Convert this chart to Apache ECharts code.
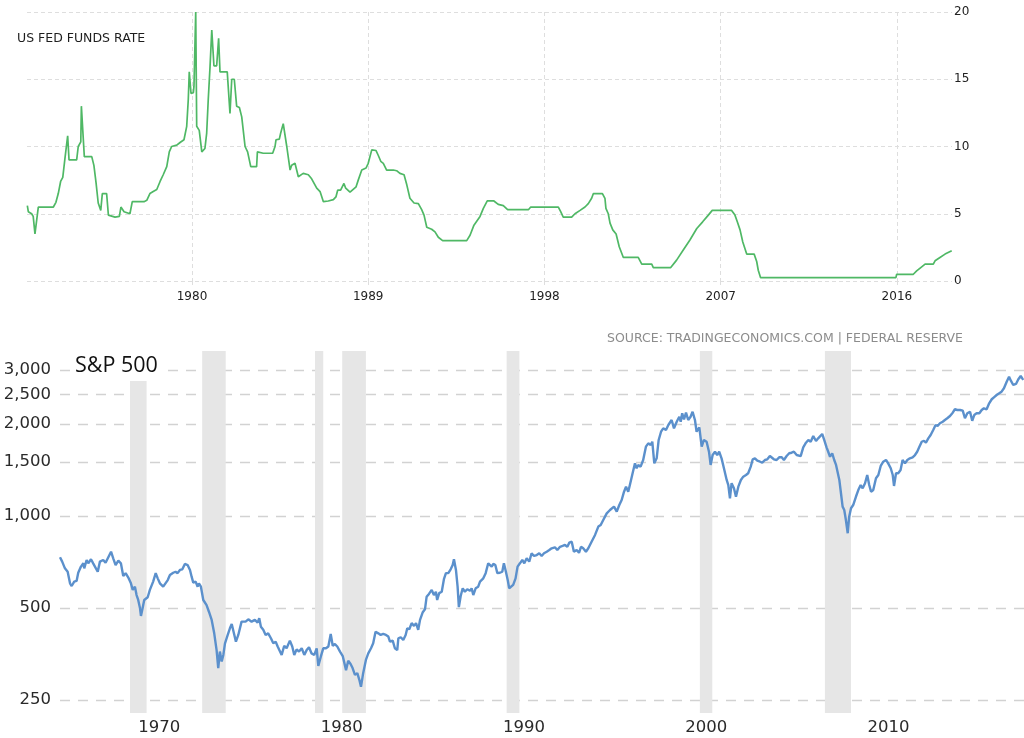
<!DOCTYPE html>
<html>
<head>
<meta charset="utf-8">
<script src="https://cdn.jsdelivr.net/npm/echarts@6/dist/echarts.min.js"></script>
<style>
html,body{margin:0;padding:0;background:#fff;}
#chart{width:1024px;height:738px;}
</style>
</head>
<body>
<div id="chart"></div>
<script>
// ---------- US Fed Funds Rate (top panel) ----------
var fedDates = [1971.59,1971.64,1971.81,1971.89,1971.98,1972.07,1972.15,1972.92,1973.05,1973.17,
1973.29,1973.40,1973.51,1973.65,1973.72,1974.11,1974.19,1974.32,1974.35,1974.45,
1974.50,1974.88,1974.99,1975.10,1975.21,1975.34,1975.42,1975.64,1975.73,1976.07,
1976.29,1976.37,1976.53,1976.83,1976.92,1976.95,1977.55,1977.69,1977.85,1978.02,
1978.20,1978.37,1978.53,1978.71,1978.84,1978.96,1979.22,1979.39,1979.59,1979.73,
1979.81,1979.86,1979.95,1980.07,1980.10,1980.19,1980.24,1980.37,1980.50,1980.55,
1980.66,1980.75,1980.83,1980.92,1981.01,1981.12,1981.26,1981.36,1981.43,1981.80,
1981.94,1982.03,1982.16,1982.28,1982.42,1982.54,1982.71,1982.84,1983.00,1983.30,
1983.34,1983.64,1984.12,1984.24,1984.29,1984.46,1984.53,1984.66,1984.84,1985.01,
1985.09,1985.26,1985.43,1985.68,1985.94,1986.11,1986.37,1986.54,1986.71,1986.96,
1987.22,1987.35,1987.44,1987.59,1987.76,1987.85,1988.07,1988.16,1988.38,1988.49,
1988.67,1988.89,1989.00,1989.18,1989.40,1989.51,1989.64,1989.77,1989.94,1990.28,
1990.45,1990.62,1990.83,1990.97,1991.13,1991.34,1991.56,1991.73,1991.85,1991.99,
1992.24,1992.41,1992.58,1992.80,1994.03,1994.20,1994.40,1994.71,1994.88,1995.08,
1995.42,1995.64,1995.90,1996.12,1997.18,1997.30,1998.71,1998.83,1998.96,1999.39,
1999.56,1999.82,2000.07,2000.24,2000.41,2000.50,2000.96,2001.09,2001.14,2001.26,
2001.35,2001.49,2001.66,2001.82,2002.03,2002.79,2002.97,2003.48,2003.56,2004.45,
2004.75,2005.09,2005.43,2005.78,2006.08,2006.37,2006.57,2007.56,2007.73,2007.85,
2007.99,2008.13,2008.33,2008.71,2008.84,2008.92,2009.04,2015.95,2015.99,2016.84,
2017.01,2017.22,2017.44,2017.86,2017.95,2018.20,2018.46,2018.80];
var fedRates = [5.6,5.15,5.0,4.8,3.5,3.5,5.5,5.5,5.85,6.5,
7.4,7.7,9.1,10.8,9.0,9.0,10.0,10.35,13.0,13.0,
9.25,9.25,8.6,7.3,5.8,5.25,6.5,6.5,4.9,4.75,
4.8,5.5,5.15,5.0,4.9,5.9,5.9,6.0,6.5,6.65,
6.8,7.4,7.9,8.5,9.6,10.0,10.1,10.3,10.5,11.5,
13.5,15.55,13.95,14.0,14.45,20.0,11.5,11.2,9.6,9.5,
9.85,11.0,13.5,15.9,18.65,16.0,16.0,18.05,15.55,15.55,
12.45,15.0,15.0,13.0,12.9,12.2,10.0,9.6,8.5,8.5,
9.6,9.5,9.5,10.0,10.5,10.55,11.0,11.7,10.0,8.25,
8.6,8.75,7.75,8.0,7.9,7.6,6.9,6.65,5.9,5.95,
6.05,6.25,6.75,6.75,7.25,6.9,6.6,6.6,7.0,7.5,
8.25,8.4,8.75,9.75,9.7,9.35,8.9,8.75,8.25,8.25,
8.2,8.0,7.9,7.15,6.15,5.8,5.75,5.3,4.9,4.0,
3.85,3.65,3.25,3.0,3.0,3.4,4.15,4.8,5.4,5.95,
5.95,5.7,5.6,5.3,5.3,5.5,5.5,5.15,4.75,4.75,
5.0,5.25,5.5,5.75,6.15,6.5,6.5,6.15,5.4,5.0,
4.3,3.8,3.5,2.55,1.75,1.75,1.25,1.25,1.0,1.0,
1.55,2.3,3.05,3.9,4.4,4.9,5.25,5.25,4.9,4.4,
3.8,2.9,2.0,2.0,1.45,0.8,0.25,0.25,0.5,0.5,
0.75,1.0,1.25,1.25,1.5,1.75,2.0,2.25];
var fedYearTicks = [1980, 1989, 1998, 2007, 2016];
var fedRateTicks = [0, 5, 10, 15, 20];

// ---------- S&P 500 (bottom panel, log scale) ----------
var spDates = [1964.55,1964.67,1964.82,1964.97,1965.10,1965.19,1965.33,1965.46,1965.55,1965.70,
1965.83,1965.88,1966.01,1966.10,1966.25,1966.37,1966.47,1966.62,1966.74,1966.92,
1967.05,1967.20,1967.35,1967.47,1967.60,1967.75,1967.89,1968.02,1968.15,1968.29,
1968.44,1968.54,1968.66,1968.75,1968.84,1968.94,1968.99,1969.08,1969.17,1969.36,
1969.48,1969.66,1969.80,1969.91,1970.03,1970.13,1970.21,1970.31,1970.46,1970.58,
1970.76,1970.89,1971.00,1971.13,1971.26,1971.40,1971.55,1971.68,1971.77,1971.86,
1971.99,1972.10,1972.17,1972.28,1972.41,1972.59,1972.72,1972.87,1973.01,1973.14,
1973.23,1973.32,1973.42,1973.51,1973.60,1973.75,1973.87,1973.97,1974.09,1974.20,
1974.33,1974.42,1974.51,1974.60,1974.73,1974.88,1975.06,1975.24,1975.39,1975.48,
1975.57,1975.70,1975.83,1975.97,1976.12,1976.25,1976.38,1976.49,1976.56,1976.71,
1976.85,1976.98,1977.16,1977.29,1977.40,1977.53,1977.66,1977.81,1977.95,1978.08,
1978.21,1978.35,1978.50,1978.63,1978.72,1978.86,1978.99,1979.14,1979.27,1979.40,
1979.51,1979.63,1979.76,1979.91,1980.06,1980.24,1980.36,1980.49,1980.60,1980.73,
1980.86,1980.97,1981.06,1981.18,1981.33,1981.46,1981.61,1981.73,1981.86,1982.01,
1982.14,1982.28,1982.43,1982.56,1982.65,1982.80,1982.92,1983.05,1983.11,1983.24,
1983.38,1983.51,1983.60,1983.71,1983.84,1983.97,1984.08,1984.20,1984.30,1984.44,
1984.57,1984.66,1984.79,1984.94,1985.06,1985.17,1985.24,1985.35,1985.49,1985.61,
1985.72,1985.85,1985.98,1986.09,1986.16,1986.27,1986.36,1986.43,1986.53,1986.64,
1986.76,1986.89,1987.04,1987.13,1987.22,1987.35,1987.49,1987.59,1987.68,1987.77,
1987.90,1988.04,1988.13,1988.23,1988.32,1988.43,1988.54,1988.68,1988.81,1988.90,
1989.01,1989.11,1989.19,1989.29,1989.41,1989.54,1989.65,1989.78,1989.91,1990.02,
1990.15,1990.29,1990.42,1990.55,1990.70,1990.84,1990.97,1991.10,1991.25,1991.39,
1991.52,1991.70,1991.83,1991.98,1992.12,1992.25,1992.38,1992.49,1992.62,1992.74,
1992.89,1993.02,1993.13,1993.25,1993.40,1993.53,1993.71,1993.90,1994.08,1994.21,
1994.35,1994.54,1994.72,1994.94,1995.09,1995.23,1995.36,1995.49,1995.60,1995.72,
1995.81,1995.96,1996.09,1996.18,1996.27,1996.40,1996.54,1996.69,1996.82,1996.95,
1997.04,1997.15,1997.28,1997.39,1997.52,1997.64,1997.79,1997.92,1998.01,1998.10,
1998.23,1998.38,1998.52,1998.60,1998.68,1998.78,1998.89,1999.01,1999.14,1999.25,
1999.38,1999.47,1999.62,1999.75,1999.87,2000.02,2000.15,2000.24,2000.35,2000.48,
2000.60,2000.71,2000.84,2000.97,2001.12,2001.21,2001.30,2001.39,2001.52,2001.63,
2001.76,2001.90,2002.03,2002.18,2002.30,2002.44,2002.55,2002.67,2002.80,2002.95,
2003.07,2003.22,2003.35,2003.49,2003.59,2003.71,2003.86,2004.00,2004.14,2004.26,
2004.41,2004.55,2004.68,2004.81,2004.96,2005.05,2005.18,2005.32,2005.47,2005.60,
2005.73,2005.87,2006.02,2006.14,2006.24,2006.36,2006.47,2006.60,2006.69,2006.79,
2006.91,2007.02,2007.12,2007.21,2007.30,2007.39,2007.48,2007.57,2007.66,2007.76,
2007.84,2007.94,2008.06,2008.21,2008.34,2008.47,2008.58,2008.71,2008.83,2008.94,
2009.04,2009.16,2009.31,2009.44,2009.57,2009.71,2009.86,2009.98,2010.12,2010.23,
2010.30,2010.41,2010.53,2010.66,2010.77,2010.90,2011.03,2011.17,2011.32,2011.45,
2011.57,2011.68,2011.82,2011.94,2012.05,2012.18,2012.31,2012.45,2012.58,2012.69,
2012.82,2012.97,2013.09,2013.22,2013.37,2013.52,2013.64,2013.77,2013.92,2014.07,
2014.19,2014.32,2014.47,2014.59,2014.70,2014.83,2014.98,2015.11,2015.23,2015.38,
2015.52,2015.66,2015.78,2015.93,2016.07,2016.20,2016.33,2016.48,2016.61,2016.71,
2016.84,2016.99,2017.12,2017.25,2017.39];
var spValues = [733,709,674,657,602,590,610,613,652,683,
700,674,718,700,722,700,709,657,709,718,
703,733,764,727,691,714,700,636,650,630,
602,573,587,551,531,499,471,499,531,542,
573,610,650,625,602,610,587,580,617,641,
652,657,650,666,669,697,691,666,633,605,
610,587,602,587,531,511,486,457,413,364,
318,360,334,351,383,408,429,443,413,388,
408,403,451,457,451,459,451,457,448,463,
434,424,408,413,398,383,388,374,378,351,
376,369,391,374,351,366,360,369,351,364,
372,355,351,369,323,347,369,369,374,411,
376,381,374,360,348,313,336,328,318,302,
306,291,276,306,338,355,369,383,418,413,
408,411,408,403,388,391,369,364,398,401,
393,408,429,426,446,437,446,424,457,483,
495,544,556,573,551,565,531,559,565,621,
650,650,669,691,722,666,587,503,547,580,
565,576,569,580,551,580,587,610,602,625,
650,700,703,683,697,691,650,652,657,700,
657,617,580,573,595,625,683,700,718,700,
727,709,755,740,745,755,740,755,764,774,
784,790,774,793,798,804,793,818,824,764,
774,758,793,784,764,784,824,867,923,934,
970,1020,1046,1073,1033,1086,1128,1201,1247,1201,
1263,1380,1487,1433,1469,1450,1525,1686,1729,1707,
1750,1487,1544,1773,1887,1936,1911,1985,1960,2061,
1936,2035,2113,2035,2168,2072,2178,2061,2113,2194,
2061,1887,1951,1686,1773,1750,1623,1469,1583,1623,
1583,1623,1544,1433,1312,1263,1143,1280,1232,1156,
1247,1312,1345,1362,1380,1450,1533,1544,1517,1505,
1494,1525,1533,1571,1583,1533,1525,1556,1556,1525,
1571,1604,1611,1623,1583,1563,1571,1678,1737,1773,
1750,1827,1759,1795,1782,1855,1773,1678,1623,1563,
1604,1525,1469,1458,1312,1187,1073,1046,970,878,
995,1060,1086,1156,1216,1263,1232,1280,1362,1263,
1201,1216,1329,1362,1458,1505,1525,1487,1433,1362,
1254,1380,1380,1414,1525,1487,1525,1544,1556,1583,
1623,1678,1750,1763,1737,1795,1841,1911,1985,1970,
2011,2035,2061,2088,2124,2178,2235,2223,2223,2211,
2088,2168,2194,2050,2140,2168,2168,2223,2252,2235,
2338,2410,2446,2489,2521,2552,2618,2751,2857,2772,
2684,2704,2801,2872,2787];
var spYearTicks = [1970, 1980, 1990, 2000, 2010];
var spValueTicks = [250, 500, 1000, 1500, 2000, 2500, 3000];
var recessionStarts = [1968.39, 1972.35, 1978.54, 1980.03, 1989.05, 1999.65, 2006.51];
var recessionEnds   = [1969.30, 1973.64, 1978.99, 1981.33, 1989.75, 2000.33, 2007.94];

// ---------- build ----------
function pairs(xs, ys) { return xs.map(function (x, i) { return [x, ys[i]]; }); }
function withCommas(v) { return String(Math.round(v)).replace(/\B(?=(\d{3})+(?!\d))/g, ','); }

var chart = echarts.init(document.getElementById('chart'), null, { renderer: 'canvas' });
var gridDash = { color: '#dedede', width: 1, type: [4, 3] };

chart.setOption({
  animation: false,
  backgroundColor: '#ffffff',
  textStyle: { fontFamily: 'DejaVu Sans' },
  grid: [
    { left: 27, right: 72, top: 12, bottom: 457 },
    { left: 60, right: 0, top: 351, bottom: 25 }
  ],
  xAxis: [
    {
      gridIndex: 0, type: 'value', min: 1971.573, max: 2018.815,
      axisLine: { show: false },
      axisTick: { show: true, length: 6, customValues: fedYearTicks, lineStyle: gridDash },
      axisLabel: { customValues: fedYearTicks, color: '#222', fontSize: 12, margin: 10,
                   fontFamily: 'DejaVu Sans', formatter: function (v) { return String(v); } },
      splitLine: { show: true, lineStyle: gridDash }
    },
    {
      gridIndex: 1, type: 'value', min: 1964.55, max: 2017.43,
      axisLine: { show: false },
      axisTick: { show: false, customValues: spYearTicks },
      axisLabel: { customValues: spYearTicks, color: '#2a2a2a', fontSize: 16.5, margin: 6,
                   fontFamily: 'DejaVu Sans', formatter: function (v) { return String(v); } },
      splitLine: { show: false }
    }
  ],
  yAxis: [
    {
      gridIndex: 0, type: 'value', position: 'right', min: 0, max: 20, interval: 5,
      axisLine: { show: false }, axisTick: { show: false },
      axisLabel: { color: '#222', fontSize: 12, margin: 2, fontFamily: 'DejaVu Sans' },
      splitLine: { show: true, lineStyle: gridDash }
    },
    {
      gridIndex: 1, type: 'log', logBase: 10, min: 226.6, max: 3467, position: 'left',
      axisLine: { show: false },
      axisTick: { show: false, customValues: spValueTicks },
      axisLabel: { customValues: spValueTicks, color: '#2a2a2a', fontSize: 16.5, margin: 9,
                   fontFamily: 'DejaVu Sans', formatter: function (v) { return withCommas(v); } },
      splitLine: { show: true, lineStyle: { color: '#d2d2d2', width: 1.3, type: [10, 8] } }
    }
  ],
  series: [
    {
      name: 'US Fed Funds Rate', type: 'line', xAxisIndex: 0, yAxisIndex: 0,
      data: pairs(fedDates, fedRates), showSymbol: false, symbol: 'none',
      lineStyle: { color: '#4fb865', width: 1.7 }, z: 3
    },
    {
      name: 'Recessions', type: 'line', xAxisIndex: 1, yAxisIndex: 1, data: [], z: 1,
      markArea: {
        silent: true,
        itemStyle: { color: '#e6e6e6' },
        data: recessionStarts.map(function (s, i) { return [{ xAxis: s }, { xAxis: recessionEnds[i] }]; })
      }
    },
    {
      name: 'S&P 500', type: 'line', xAxisIndex: 1, yAxisIndex: 1,
      data: pairs(spDates, spValues), showSymbol: false, symbol: 'none',
      lineStyle: { color: '#5b90cc', width: 2.4 }, z: 4
    }
  ],
  graphic: [
    { type: 'text', left: 17, top: 32, z: 100,
      style: { text: 'US FED FUNDS RATE', fill: '#1e1e1e', font: '12.5px "DejaVu Sans"' } },
    { type: 'text', right: 61, top: 332, z: 100,
      style: { text: 'SOURCE: TRADINGECONOMICS.COM | FEDERAL RESERVE', fill: '#8c8c8c', font: '12.5px "DejaVu Sans"' } },
    { type: 'text', left: 70, top: 351, z: 100,
      style: { text: 'S&P 500', fill: '#111', font: '21.5px "Open Sans"', backgroundColor: '#ffffff',
               lineHeight: 30, padding: [0, 6, 0, 5] } }
  ]
});
</script>
</body>
</html>
